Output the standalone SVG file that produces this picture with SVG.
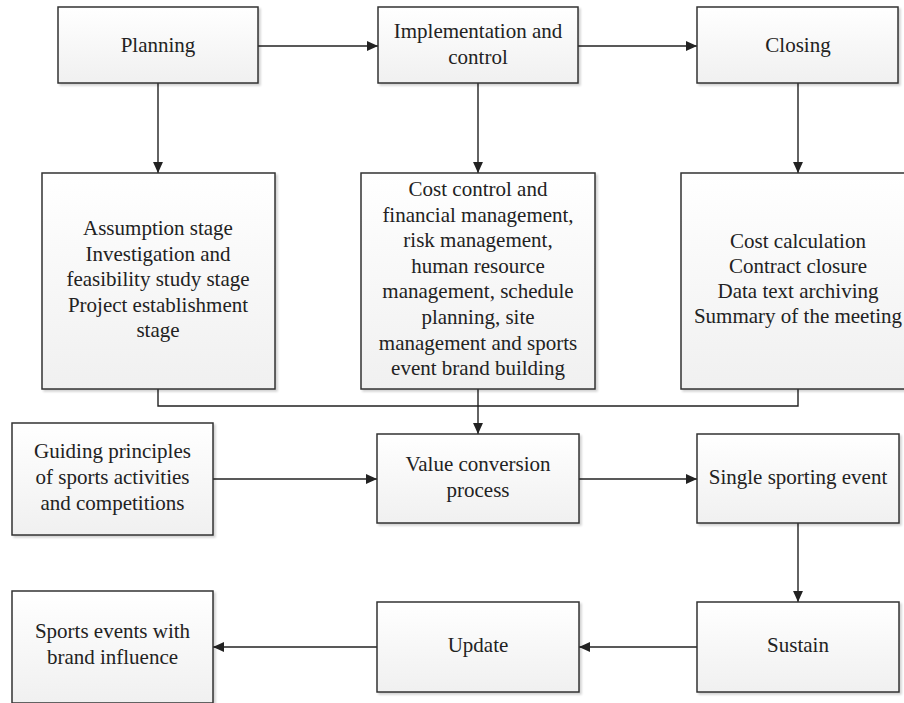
<svg xmlns="http://www.w3.org/2000/svg" width="904" height="703" viewBox="0 0 904 703">
  <defs>
    <linearGradient id="boxFill" x1="0" y1="0" x2="0" y2="1">
      <stop offset="0" stop-color="#ffffff"/>
      <stop offset="1" stop-color="#f0f0f0"/>
    </linearGradient>
    <filter id="shadow" x="-5%" y="-5%" width="115%" height="115%">
      <feGaussianBlur in="SourceAlpha" stdDeviation="1.2"/>
      <feOffset dx="2" dy="2" result="b"/>
      <feComponentTransfer><feFuncA type="linear" slope="0.18"/></feComponentTransfer>
      <feMerge><feMergeNode/><feMergeNode in="SourceGraphic"/></feMerge>
    </filter>
    <marker id="arrow" viewBox="0 0 10 10" refX="10" refY="5" markerWidth="11" markerHeight="11" markerUnits="userSpaceOnUse" orient="auto">
      <path d="M0,0.5 L10,5 L0,9.5 Z" fill="#222"/>
    </marker>
  </defs>
  <style>
    .box { fill: url(#boxFill); stroke: #333; stroke-width: 1.5; filter: url(#shadow); }
    .lbl { font-family: "Liberation Serif", "Times New Roman", serif; font-size: 21px; fill: #222; text-anchor: middle; }
    .edge { fill: none; stroke: #222; stroke-width: 1.4; }
  </style>
  <rect width="904" height="703" fill="#ffffff"/>

  <g id="connectors">
    <path class="edge" d="M258,46 H378" marker-end="url(#arrow)"/>
    <path class="edge" d="M578,46 H697" marker-end="url(#arrow)"/>
    <path class="edge" d="M158,83 V173" marker-end="url(#arrow)"/>
    <path class="edge" d="M478,83 V173" marker-end="url(#arrow)"/>
    <path class="edge" d="M798,83 V173" marker-end="url(#arrow)"/>
    <path class="edge" d="M158,389 V406 H798 V389"/>
    <path class="edge" d="M478,389 V434" marker-end="url(#arrow)"/>
    <path class="edge" d="M213,479 H377" marker-end="url(#arrow)"/>
    <path class="edge" d="M579,479 H697" marker-end="url(#arrow)"/>
    <path class="edge" d="M798,523 V602" marker-end="url(#arrow)"/>
    <path class="edge" d="M697,647 H579" marker-end="url(#arrow)"/>
    <path class="edge" d="M377,647 H213" marker-end="url(#arrow)"/>
  </g>

  <g id="planning">
    <rect class="box" x="58" y="7" width="200" height="76"/>
    <text class="lbl" x="158" y="52">Planning</text>
  </g>
  <g id="implementation">
    <rect class="box" x="378" y="7" width="200" height="76"/>
    <text class="lbl" x="478" y="38">Implementation and</text>
    <text class="lbl" x="478" y="64">control</text>
  </g>
  <g id="closing">
    <rect class="box" x="697" y="7" width="201" height="76"/>
    <text class="lbl" x="798" y="52">Closing</text>
  </g>

  <g id="planning-stages">
    <rect class="box" x="42" y="173" width="233" height="216"/>
    <text class="lbl" x="158" y="235">Assumption stage</text>
    <text class="lbl" x="158" y="261">Investigation and</text>
    <text class="lbl" x="158" y="286">feasibility study stage</text>
    <text class="lbl" x="158" y="312">Project establishment</text>
    <text class="lbl" x="158" y="337">stage</text>
  </g>
  <g id="implementation-tasks">
    <rect class="box" x="361" y="173" width="234" height="216"/>
    <text class="lbl" x="478" y="196">Cost control and</text>
    <text class="lbl" x="478" y="222">financial management,</text>
    <text class="lbl" x="478" y="247">risk management,</text>
    <text class="lbl" x="478" y="273">human resource</text>
    <text class="lbl" x="478" y="298">management, schedule</text>
    <text class="lbl" x="478" y="324">planning, site</text>
    <text class="lbl" x="478" y="350">management and sports</text>
    <text class="lbl" x="478" y="375">event brand building</text>
  </g>
  <g id="closing-tasks">
    <rect class="box" x="681" y="173" width="234" height="216"/>
    <text class="lbl" x="798" y="248">Cost calculation</text>
    <text class="lbl" x="798" y="273">Contract closure</text>
    <text class="lbl" x="798" y="298">Data text archiving</text>
    <text class="lbl" x="798" y="323">Summary of the meeting</text>
  </g>

  <g id="guiding-principles">
    <rect class="box" x="12" y="423" width="201" height="112"/>
    <text class="lbl" x="112.5" y="458">Guiding principles</text>
    <text class="lbl" x="112.5" y="484">of sports activities</text>
    <text class="lbl" x="112.5" y="510">and competitions</text>
  </g>
  <g id="value-conversion">
    <rect class="box" x="377" y="434" width="202" height="89"/>
    <text class="lbl" x="478" y="471">Value conversion</text>
    <text class="lbl" x="478" y="497">process</text>
  </g>
  <g id="single-event">
    <rect class="box" x="697" y="434" width="202" height="89"/>
    <text class="lbl" x="798" y="484">Single sporting event</text>
  </g>

  <g id="brand-events">
    <rect class="box" x="12" y="591" width="201" height="112"/>
    <text class="lbl" x="112.5" y="638">Sports events with</text>
    <text class="lbl" x="112.5" y="664">brand influence</text>
  </g>
  <g id="update">
    <rect class="box" x="377" y="602" width="202" height="90"/>
    <text class="lbl" x="478" y="652">Update</text>
  </g>
  <g id="sustain">
    <rect class="box" x="697" y="602" width="202" height="90"/>
    <text class="lbl" x="798" y="652">Sustain</text>
  </g>
</svg>
